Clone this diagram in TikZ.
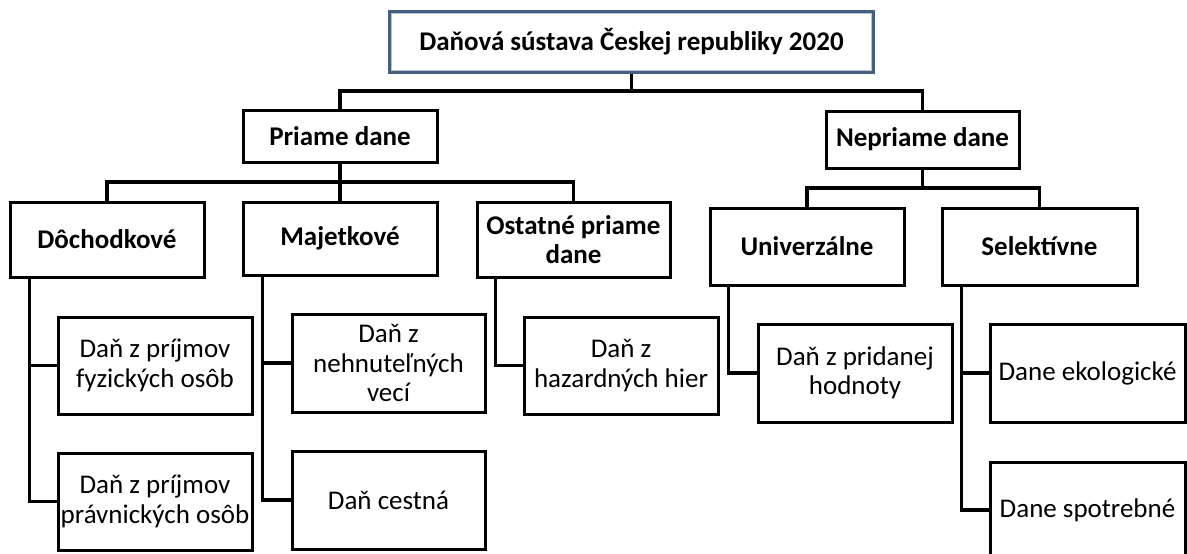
\documentclass[tikz,border=0pt]{standalone}
\usepackage{fontspec}
\setmainfont{Carlito}
\definecolor{topblue}{HTML}{44607F}
\definecolor{toplight}{HTML}{B4C2D3}
\begin{document}
\begin{tikzpicture}[x=1pt,y=-1pt,
  box/.style={draw=black, line width=3pt, rectangle, inner sep=0pt, align=center,
    font=\fontsize{27}{29.5}\selectfont},
  hbox/.style={box, font=\fontsize{27}{29.5}\selectfont\bfseries},
  conn/.style={line width=3.2pt}]
\useasboundingbox (0,0) rectangle (1187,554);
\clip (0,0) rectangle (1187,554);
% top
\node[hbox, draw=topblue, line width=3.2pt, minimum width=483pt, minimum height=60pt] (top) at (631.5,42) {Daňová sústava Českej republiky 2020};
\draw[toplight, line width=0.8pt] ([shift={(2.8pt,-2.8pt)}]top.north west) rectangle ([shift={(-2.8pt,2.8pt)}]top.south east);
% second level
\node[hbox, minimum width=194pt, minimum height=52pt] (priame) at (340,136) {Priame dane};
\node[hbox, minimum width=193pt, minimum height=57pt] (nepriame) at (922.5,139.5) {Nepriame dane};
% third level
\node[hbox, minimum width=194pt, minimum height=75pt] (doch) at (107,239.5) {Dôchodkové};
\node[hbox, minimum width=194pt, minimum height=73pt] (majet) at (340,238.5) {Majetkové};
\node[hbox, minimum width=193pt, minimum height=75pt] (ostat) at (573.5,239.5) {Ostatné priame\\dane};
\node[hbox, minimum width=194pt, minimum height=77pt] (univ) at (807,246.5) {Univerzálne};
\node[hbox, minimum width=195pt, minimum height=77pt] (selek) at (1039.5,246.5) {Selektívne};
% leaves
\node[box, minimum width=194pt, minimum height=97pt] (fyz) at (155,365.5) {Daň z príjmov\\fyzických osôb};
\node[box, minimum width=194pt, minimum height=97pt] (prav) at (155,501.5) {Daň z príjmov\\právnických osôb};
\node[box, minimum width=193pt, minimum height=98pt] (nehn) at (388.5,363) {Daň z\\nehnuteľných\\vecí};
\node[box, minimum width=193pt, minimum height=98pt] (cest) at (388.5,500) {Daň cestná};
\node[box, minimum width=194pt, minimum height=97pt] (haz) at (621,365.5) {Daň z\\hazardných hier};
\node[box, minimum width=194pt, minimum height=98pt] (prid) at (855,373) {Daň z pridanej\\hodnoty};
\node[box, minimum width=195pt, minimum height=98pt] (ekol) at (1087.5,373) {Dane ekologické};
\node[box, minimum width=195pt, minimum height=96pt] (spot) at (1087.5,510) {Dane spotrebné};
% junctions
\coordinate (j1) at (631.5,91);
\coordinate (j2) at (340,182);
\coordinate (j3) at (922.5,188);
% connectors
\draw[conn] (top.south) -- (j1);
\draw[conn] (priame.north) |- (j1) -| (nepriame.north);
\draw[conn] (priame.south) -- (majet.north);
\draw[conn] (doch.north) |- (j2) -| (ostat.north);
\draw[conn] (nepriame.south) -- (j3);
\draw[conn] (univ.north) |- (j3) -| (selek.north);
\draw[conn] ([xshift=21pt]doch.south west) |- (fyz.west);
\draw[conn] ([xshift=21pt]doch.south west) |- (prav.west);
\draw[conn] ([xshift=21pt]majet.south west) |- (nehn.west);
\draw[conn] ([xshift=21pt]majet.south west) |- (cest.west);
\draw[conn] ([xshift=20pt]ostat.south west) |- (haz.west);
\draw[conn] ([xshift=20pt]univ.south west) |- (prid.west);
\draw[conn] ([xshift=21pt]selek.south west) |- (ekol.west);
\draw[conn] ([xshift=21pt]selek.south west) |- (spot.west);
\end{tikzpicture}
\end{document}
